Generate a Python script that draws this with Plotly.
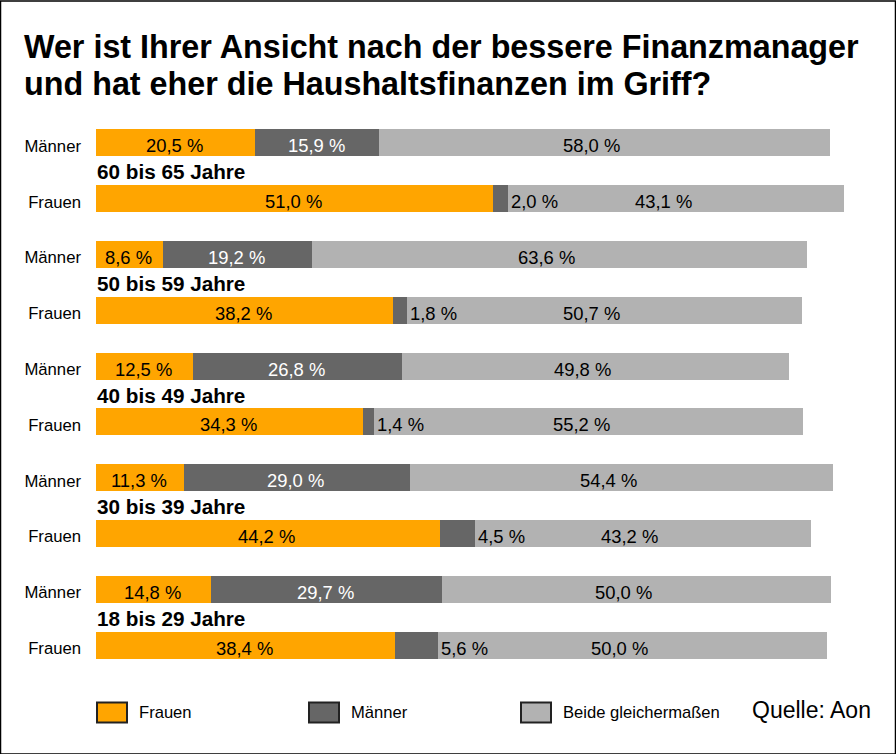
import plotly.graph_objects as go

rows = ["Männer", "Frauen"] * 5
groups = ["60 bis 65 Jahre", "50 bis 59 Jahre", "40 bis 49 Jahre", "30 bis 39 Jahre", "18 bis 29 Jahre"]
frauen = [20.5, 51.0, 8.6, 38.2, 12.5, 34.3, 11.3, 44.2, 14.8, 38.4]
maenner = [15.9, 2.0, 19.2, 1.8, 26.8, 1.4, 29.0, 4.5, 29.7, 5.6]
beide = [58.0, 43.1, 63.6, 50.7, 49.8, 55.2, 54.4, 43.2, 50.0, 50.0]

ORANGE = "#FFA500"
DARK = "#666666"
GRAY = "#B2B2B2"
FONT = "Liberation Sans"
W, H = 896, 754
LEFT, TOP, BOTTOM = 96, 114.6, 81.4
PX_PER_UNIT = 7.78


def fmt(v):
    return f"{v:.1f}".replace(".", ",") + " %"


def px(x):
    return (x - LEFT) / (W - LEFT)


def py(y):
    return 1 - (y - TOP) / (H - TOP - BOTTOM)


pos = list(range(len(rows)))
fig = go.Figure()
for name, vals, color in [("Frauen", frauen, ORANGE), ("Männer", maenner, DARK), ("Beide gleichermaßen", beide, GRAY)]:
    fig.add_trace(go.Bar(y=pos, x=vals, name=name, orientation="h", marker=dict(color=color, line=dict(width=0)),
                         showlegend=False, hoverinfo="name+x"))

notes = []


def note(x, y, text, size=18.4, color="black", bold=False, anchor="center", xref="x", yref="y", xshift=0, yshift=0):
    notes.append(dict(x=x, y=y, xref=xref, yref=yref, text=f"<b>{text}</b>" if bold else text, showarrow=False,
                      xanchor=anchor, yanchor="middle", xshift=xshift, yshift=yshift,
                      font=dict(family=FONT, size=size, color=color)))


# value labels
for i in pos:
    a, b, c = frauen[i], maenner[i], beide[i]
    note(a / 2, i, fmt(a), xshift=-1, yshift=-3)
    if rows[i] == "Männer":
        note(a + b / 2, i, fmt(b), color="white", xshift=-1, yshift=-3)
    else:
        # narrow segment, label sits just right of it on the grey part
        note(a + b, i, fmt(b), anchor="left", xshift=1, yshift=-3)
    # grey labels sit left of centre, the 55,2 % one less so
    note(a + b + c / 2, i, fmt(c), xshift=-7 if i == 5 else -13, yshift=-3)

# age group labels between the two bars
for k, g in enumerate(groups):
    note(0, 2 * k + 0.5, g, size=20.7, bold=True, anchor="left", xshift=-1, yshift=-1)

# title
note(px(22), py(47), "Wer ist Ihrer Ansicht nach der bessere Finanzmanager", size=32.3, bold=True, anchor="left",
     xref="paper", yref="paper")
note(px(22), py(84), "und hat eher die Haushaltsfinanzen im Griff?", size=32.3, bold=True, anchor="left",
     xref="paper", yref="paper")

# legend
shapes = []
for x0, label, color in [(97, "Frauen", ORANGE), (309, "Männer", DARK), (521, "Beide gleichermaßen", GRAY)]:
    shapes.append(dict(type="rect", xref="paper", yref="paper", x0=px(x0), x1=px(x0 + 30), y0=py(702), y1=py(722),
                       fillcolor=color, line=dict(color="#222222", width=2)))
    note(px(x0 + 40), py(712), label, size=16.6, anchor="left", xref="paper", yref="paper")
note(px(750), py(710), "Quelle: Aon", size=23, anchor="left", xref="paper", yref="paper")

# outer frame
shapes.append(dict(type="rect", xref="paper", yref="paper", x0=px(0.5), x1=px(W - 0.5), y0=py(H - 0.5), y1=py(0.5),
                   line=dict(color="black", width=1.5)))

fig.update_layout(
    barmode="stack",
    bargap=0.515,
    width=W,
    height=H,
    margin=dict(l=LEFT, r=0, t=TOP, b=BOTTOM, pad=0),
    paper_bgcolor="white",
    plot_bgcolor="white",
    annotations=notes,
    shapes=shapes,
    xaxis=dict(range=[0, (W - LEFT) / PX_PER_UNIT], visible=False),
    yaxis=dict(range=[9.5, -0.5], tickmode="array", tickvals=pos, ticktext=rows, showgrid=False, zeroline=False,
               showline=False, ticks="", ticklabelstandoff=14, ticklabelshift=-3,
               tickfont=dict(family=FONT, size=16.7, color="black")),
)

# the page's default body margin would push the 896x754 figure out of the window
fig.write_html("out.html", config={"displayModeBar": False},
               post_script="document.body.style.margin = '0'; document.body.style.overflow = 'hidden';")
